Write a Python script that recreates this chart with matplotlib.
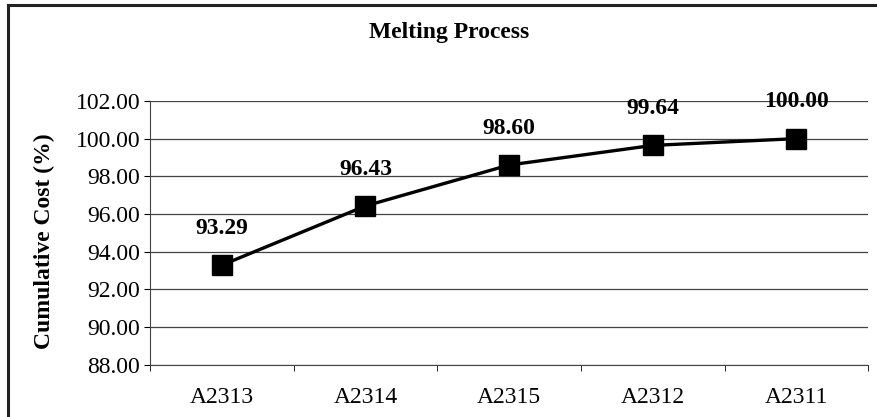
import matplotlib.pyplot as plt
from matplotlib.lines import Line2D

products = ["A2313", "A2314", "A2315", "A2312", "A2311"]
cum_cost = [93.29, 96.43, 98.60, 99.64, 100.00]
y_ticks = [88, 90, 92, 94, 96, 98, 100, 102]

plt.rcParams["font.family"] = ["Liberation Serif", "DejaVu Serif"]

fig = plt.figure(figsize=(8.77, 4.17), dpi=100)
ax = fig.add_axes([0.171, 0.125, 0.819, 0.633])

x = list(range(len(products)))
ax.plot(x, cum_cost, color="black", linewidth=2.4, marker="s",
        markersize=14.4, markerfacecolor="black", markeredgecolor="black",
        zorder=3)

for xi, v in zip(x, cum_cost):
    ax.annotate(f"{v:.2f}", (xi, v), xytext=(0, 19), textcoords="offset points",
                ha="center", va="bottom", fontsize=17, fontweight="bold")

ax.set_xlim(-0.5, len(products) - 0.5)
ax.set_ylim(88, 102)
ax.set_yticks(y_ticks)
ax.set_yticklabels([f"{t:.2f}" for t in y_ticks], fontsize=17)
ax.set_xticks(x)
ax.set_xticklabels(products, fontsize=17)
ax.tick_params(axis="x", length=0, pad=16)
ax.set_xticks([i + 0.5 for i in range(-1, len(products))], minor=True)
ax.tick_params(axis="x", which="minor", length=4, direction="out")
ax.tick_params(axis="y", length=4, direction="out", pad=3)

ax.grid(axis="y", color="#444444", linewidth=0.9)
ax.set_axisbelow(True)
for side in ["top", "right"]:
    ax.spines[side].set_visible(False)
ax.spines["left"].set_color("#444444")
ax.spines["bottom"].set_color("#444444")

ax.set_ylabel("Cumulative Cost (%)", fontsize=17, fontweight="bold")
ax.yaxis.set_label_coords(-0.132, 0.47)
fig.text(0.512, 0.923, "Melting Process", ha="center", va="center",
         fontsize=17, fontweight="bold")

# outer chart frame (top and left edges)
fig.add_artist(Line2D([0.009, 1.0], [0.988, 0.988], transform=fig.transFigure,
                      color="#222222", linewidth=2.2))
fig.add_artist(Line2D([0.009, 0.009], [0.0, 0.988], transform=fig.transFigure,
                      color="#222222", linewidth=2.2))

fig.savefig("out.png", dpi=100)
